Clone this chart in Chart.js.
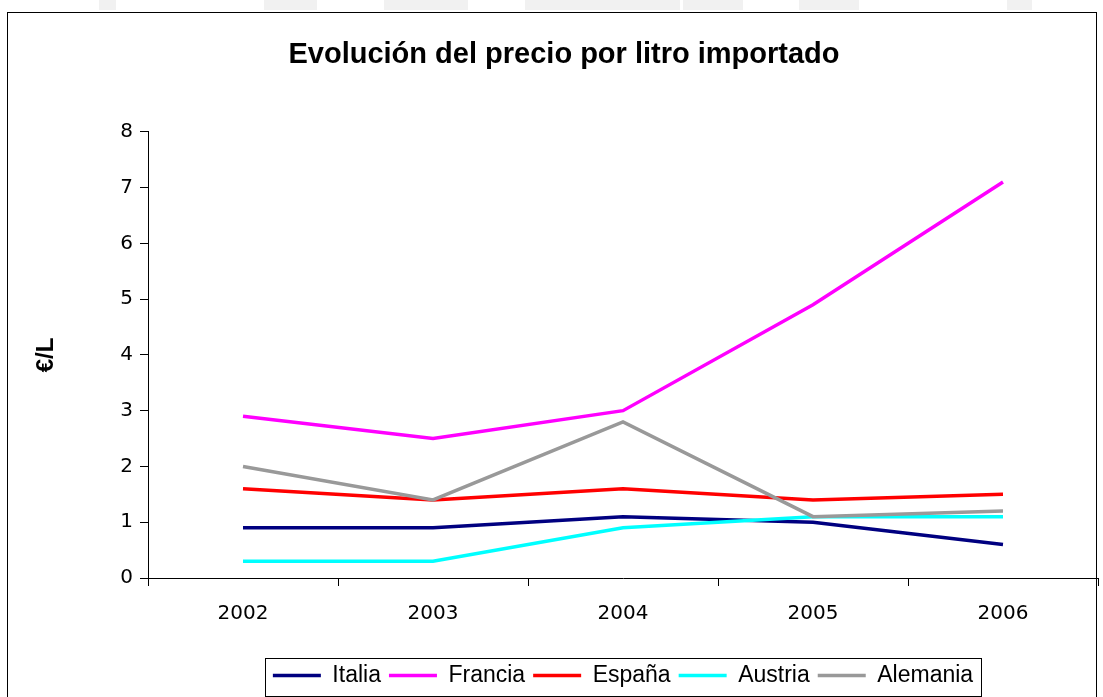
<!DOCTYPE html>
<html>
<head>
<meta charset="utf-8">
<script src="https://cdn.jsdelivr.net/npm/chart.js@4.4.1/dist/chart.umd.min.js"></script>
<style>
  body { margin: 0; background: #fff; }
  canvas { display: block; }
</style>
</head>
<body>
<canvas id="precioChart" width="1103" height="697"></canvas>
<script>
// Evolución del precio por litro importado (€/L)
const years = ['2002', '2003', '2004', '2005', '2006'];
const italia = [0.9, 0.9, 1.1, 1.0, 0.6];
const francia = [2.9, 2.5, 3.0, 4.9, 7.1];
const espana = [1.6, 1.4, 1.6, 1.4, 1.5];
const austria = [0.3, 0.3, 0.9, 1.1, 1.1];
const alemania = [2.0, 1.4, 2.8, 1.1, 1.2];
const yTicks = [0, 1, 2, 3, 4, 5, 6, 7, 8];

const tickFont = { family: 'DejaVu Sans', size: 20 };

function serie(label, data, color, order) {
    return {
        label: label,
        data: data,
        borderColor: color,
        backgroundColor: color,
        borderWidth: 3.5,
        pointRadius: 0,
        tension: 0,
        order: order
    };
}

// outer frame, faint header blocks and the box round the legend
const framePlugin = {
    id: 'frame',
    beforeDraw(chart) {
        const ctx = chart.ctx;
        ctx.save();
        ctx.fillStyle = '#f1f1f1';
        [[99, 17], [264, 53], [384, 84], [525, 155], [683, 60], [799, 60], [1007, 25]].forEach(b => {
            ctx.fillRect(b[0], 0, b[1], 10);
        });
        ctx.strokeStyle = '#000';
        ctx.lineWidth = 1;
        ctx.strokeRect(7.5, 12.5, 1089, 700);
        ctx.restore();
    },
    afterDraw(chart) {
        const boxes = chart.legend.legendHitBoxes;
        if (!boxes || !boxes.length) return;
        let l = Infinity, r = -Infinity, t = Infinity, b = -Infinity;
        boxes.forEach(h => {
            l = Math.min(l, h.left); r = Math.max(r, h.left + h.width);
            t = Math.min(t, h.top); b = Math.max(b, h.top + h.height);
        });
        const ctx = chart.ctx;
        ctx.save();
        ctx.strokeStyle = '#000';
        ctx.lineWidth = 1;
        ctx.strokeRect(Math.round(l - 8) + 0.5, Math.round(t - 6) + 0.5, Math.round(r - l + 16), Math.round(b - t + 15));
        ctx.restore();
    }
};

const ctx = document.getElementById('precioChart').getContext('2d');
new Chart(ctx, {
type: 'line',
data: {
    labels: years,
    datasets: [
        serie('Italia', italia, '#000080', 5),
        serie('Francia', francia, '#ff00ff', 4),
        serie('España', espana, '#ff0000', 3),
        serie('Austria', austria, '#00ffff', 2),
        serie('Alemania', alemania, '#999999', 1)
    ]
},
plugins: [framePlugin],
options: {
    responsive: false,
    animation: false,
    layout: {
        padding: { left: 30, right: 5, top: 12, bottom: 0 }
    },
    scales: {
        x: {
            offset: true,
            grid: {
                offset: true,
                drawOnChartArea: false,
                tickLength: 8,
                color: '#000'
            },
            border: { color: '#000' },
            ticks: {
                color: '#000',
                font: tickFont,
                padding: 16,
                maxRotation: 0
            },
            afterFit(scale) { scale.height = 78; }
        },
        y: {
            min: 0,
            max: 8,
            afterBuildTicks(scale) {
                scale.ticks = yTicks.map(v => ({ value: v }));
            },
            grid: {
                drawOnChartArea: false,
                tickLength: 8,
                color: '#000'
            },
            border: { color: '#000' },
            ticks: {
                color: '#000',
                font: tickFont,
                padding: 7
            },
            title: {
                display: true,
                text: '€/L',
                color: '#000',
                font: { family: 'Liberation Sans', size: 24, weight: 'bold' },
                padding: { top: 2, bottom: 0 }
            },
            afterFit(scale) { scale.width = 118; }
        }
    },
    plugins: {
        tooltip: { enabled: false },
        title: {
            display: true,
            text: 'Evolución del precio por litro importado',
            color: '#000',
            font: { family: 'Liberation Sans', size: 29, weight: 'bold' },
            padding: { top: 26, bottom: 59 }
        },
        legend: {
            position: 'bottom',
            fullSize: false,
            labels: {
                color: '#000',
                usePointStyle: true,
                pointStyle: 'line',
                pointStyleWidth: 48,
                boxHeight: 3,
                padding: 8,
                sort: (a, b) => a.datasetIndex - b.datasetIndex,
                font: { family: 'Liberation Sans', size: 23 }
            }
        }
    }
}
});
</script>
</body>
</html>
